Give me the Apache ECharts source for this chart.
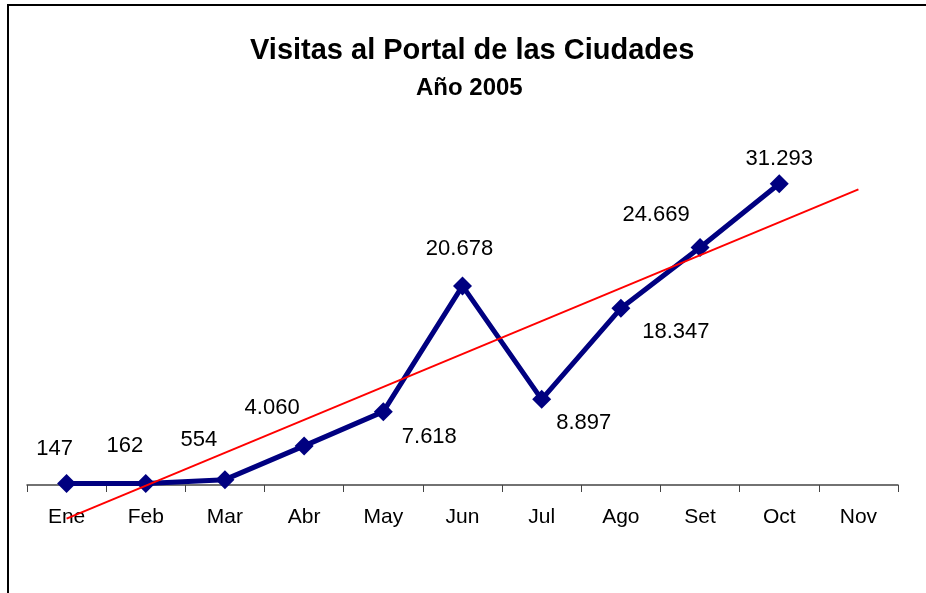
<!DOCTYPE html>
<html>
<head>
<meta charset="utf-8">
<title>Visitas al Portal de las Ciudades</title>
<script src="https://cdn.jsdelivr.net/npm/echarts@6/dist/echarts.min.js"></script>
<style>
  html, body { margin: 0; padding: 0; background: #fff; }
  #myChart { width: 926px; height: 593px; }
</style>
</head>
<body>
<div id="myChart"></div>
<script>
const months = ["Ene", "Feb", "Mar", "Abr", "May", "Jun", "Jul", "Ago", "Set", "Oct", "Nov"];
const visitas = [147, 162, 554, 4060, 7618, 20678, 8897, 18347, 24669, 31293];
// linea de tendencia: solo extremos (Ene y Nov)
const tendencia = [-3500, null, null, null, null, null, null, null, null, null, 30700];

// desplazamiento de cada etiqueta respecto al punto
const labelOffsets = [[-12, -35], [-21, -38], [-26, -40], [-32, -38], [46, 25],
  [-3, -37], [42, 24], [55, 24], [-44, -33], [0, -25]];

const fmt = function(v) {
  return String(v).replace(/\B(?=(\d{3})+(?!\d))/g, ".");
};

const font = "Liberation Sans, Arial, sans-serif";

const myChart = echarts.init(document.getElementById("myChart"));

const option = {
  animation: false,
  title: [
    {
      text: "Visitas al Portal de las Ciudades",
      left: 245,
      top: 31,
      textStyle: { fontFamily: font, fontSize: 29, fontWeight: "bold", color: "#000" }
    },
    {
      text: "Año 2005",
      left: 411,
      top: 71,
      textStyle: { fontFamily: font, fontSize: 24, fontWeight: "bold", color: "#000" }
    }
  ],
  graphic: [
    {
      type: "rect",
      shape: { x: 8, y: 5, width: 1000, height: 700 },
      style: { fill: null, stroke: "#000", lineWidth: 2 },
      silent: true
    }
  ],
  grid: { left: 27, right: 28, top: 148, bottom: 108 },
  xAxis: {
    type: "category",
    data: months,
    axisLine: { lineStyle: { color: "#444", width: 1.5 } },
    axisTick: { show: true, length: 7, lineStyle: { color: "#444" } },
    axisLabel: { color: "#000", fontFamily: font, fontSize: 21, margin: 22 },
    splitLine: { show: false }
  },
  yAxis: {
    type: "value",
    min: 0,
    max: 35000,
    show: false,
    splitLine: { show: false }
  },
  series: [
    {
      name: "Tendencia",
      type: "line",
      data: tendencia,
      connectNulls: true,
      showSymbol: false,
      symbol: "none",
      clip: false,
      lineStyle: { color: "#ff0000", width: 2 },
      z: 3
    },
    {
      name: "Visitas",
      type: "line",
      data: visitas.map(function(v, i) {
        return { value: v, label: { offset: labelOffsets[i] } };
      }),
      symbol: "diamond",
      symbolSize: 19,
      clip: false,
      itemStyle: { color: "#000080" },
      lineStyle: { color: "#000080", width: 5 },
      label: {
        show: true,
        position: "inside",
        color: "#000",
        fontFamily: font,
        fontSize: 22,
        formatter: function(p) { return fmt(p.value); }
      },
      z: 2
    }
  ]
};

myChart.setOption(option);
</script>
</body>
</html>
